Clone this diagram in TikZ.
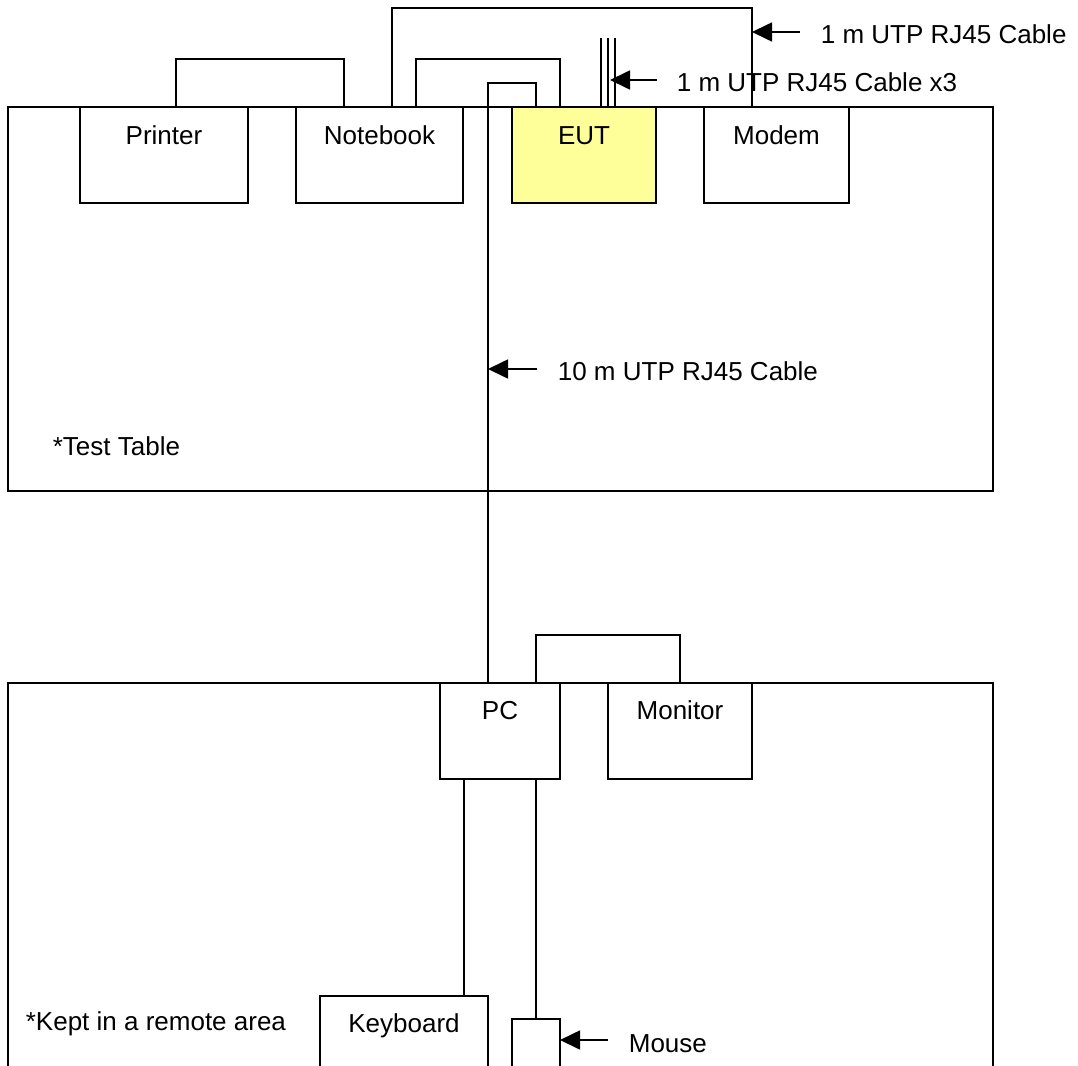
\documentclass[tikz,border=0pt]{standalone}
\usepackage{fontspec}
\setmainfont{Liberation Sans}
\usetikzlibrary{arrows.meta,calc}
\definecolor{eutyellow}{HTML}{FFFF99}
\begin{document}
\begin{tikzpicture}[x=1pt,y=-1pt,line width=1.7pt,
  box/.style={draw,rectangle,inner sep=0pt,outer sep=0pt,anchor=north west},
  lbl/.style={anchor=base,inner sep=0pt,font=\fontsize{26}{31}\selectfont},
  txt/.style={anchor=base west,inner sep=0pt,font=\fontsize{26}{31}\selectfont},
  arr/.style={-{Triangle[length=20pt,width=19pt]},line width=1.7pt}]
\useasboundingbox (0,0) rectangle (1078,1065);
\clip (0,0) rectangle (1078,1065);

% test table
\node[box,minimum width=985pt,minimum height=384pt] (table) at (8,107) {};
\node[txt] (ttlbl) at (52,455) {*Test Table};

\node[box,minimum width=168pt,minimum height=96pt] (printer) at (80,107) {};
\node[lbl] (printerlbl) at ($(printer.north)+(0,37)$) {Printer};
\node[box,minimum width=167pt,minimum height=96pt] (notebook) at (296,107) {};
\node[lbl] (notebooklbl) at ($(notebook.north)+(0,37)$) {Notebook};
\node[box,fill=eutyellow,minimum width=144pt,minimum height=96pt] (eut) at (512,107) {};
\node[lbl] (eutlbl) at ($(eut.north)+(0,37)$) {EUT};
\node[box,minimum width=145pt,minimum height=96pt] (modem) at (704,107) {};
\node[lbl] (modemlbl) at ($(modem.north)+(0,37)$) {Modem};

% remote area table
\node[box,minimum width=985pt,minimum height=500pt] (remote) at (8,683) {};
\node[txt] (ralbl) at (25,1030) {*Kept in a remote area};
\node[box,minimum width=120pt,minimum height=96pt] (pc) at (440,683) {};
\node[lbl] (pclbl) at ($(pc.north)+(0,36)$) {PC};
\node[box,minimum width=144pt,minimum height=96pt] (monitor) at (608,683) {};
\node[lbl] (monitorlbl) at ($(monitor.north)+(0,36)$) {Monitor};
\node[box,minimum width=168pt,minimum height=120pt] (keyboard) at (320,996) {};
\node[lbl] (keyboardlbl) at ($(keyboard.north)+(0,36)$) {Keyboard};
\node[box,minimum width=48pt,minimum height=100pt] (mouse) at (512,1019) {};

% cables
\draw ($(printer.north west)+(96,0)$) -- ++(0,-48) -| ($(notebook.north west)+(48,0)$);
\draw ($(notebook.north west)+(96,0)$) -- ++(0,-99) -| ($(modem.north west)+(48,0)$);
\draw ($(notebook.north west)+(120,0)$) -- ++(0,-48) -| ($(eut.north west)+(48,0)$);
\draw ($(eut.north west)+(24,0)$) -- ++(0,-24) -| ($(pc.north west)+(48,0)$);
\foreach \dx in {89,96,103} \draw ($(eut.north west)+(\dx,0)$) -- ++(0,-69);
\draw ($(pc.north west)+(96,0)$) -- ++(0,-48) -| ($(monitor.north west)+(72,0)$);
\draw ($(pc.south west)+(24,0)$) -- ($(keyboard.north west)+(144,0)$);
\draw ($(pc.south west)+(96,0)$) -- ($(mouse.north west)+(24,0)$);

% labels with arrows
\coordinate (a1) at (752,32);
\node[txt] (l1) at (820,44) {1 m UTP RJ45 Cable};
\draw[arr] (800,32) -- (a1);
\coordinate (a2) at (610,80);
\node[txt] (l2) at (676,92) {1 m UTP RJ45 Cable x3};
\draw[arr] (657,80) -- (a2);
\coordinate (a3) at (488,369);
\node[txt] (l3) at (557,380) {10 m UTP RJ45 Cable};
\draw[arr] (537,369) -- (a3);
\coordinate (a4) at (560,1040);
\node[txt] (l4) at (628,1052) {Mouse};
\draw[arr] (608,1040) -- (a4);
\end{tikzpicture}
\end{document}
